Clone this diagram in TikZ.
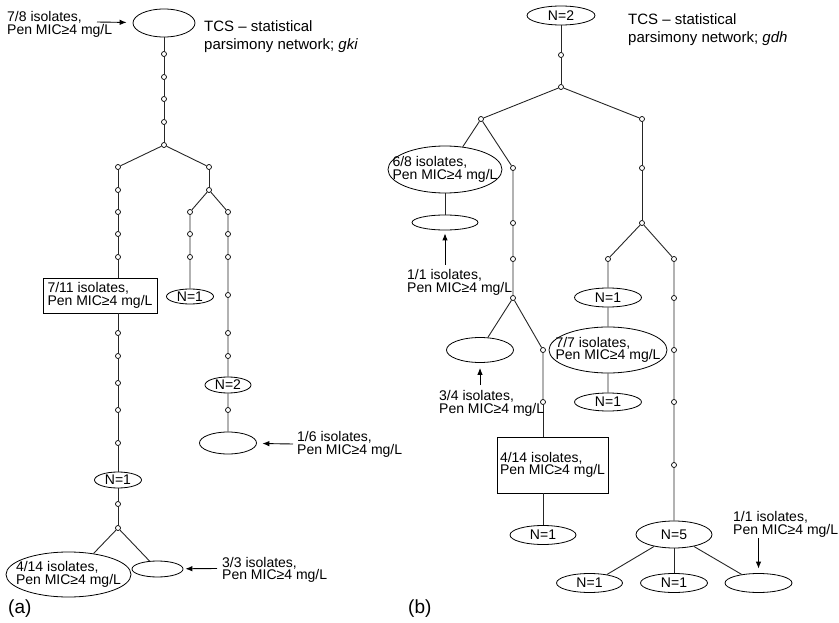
\documentclass[tikz,border=0pt]{standalone}
\usepackage{fontspec}
\setmainfont{Liberation Sans}
\usetikzlibrary{shapes.geometric,arrows.meta}
\newcommand\lblfont{\fontsize{14}{12.7}\selectfont}
\newcommand\ttlfont{\fontsize{15}{18}\selectfont}
\newcommand\panfont{\fontsize{19}{20}\selectfont}
\begin{document}
\begin{tikzpicture}[x=1pt,y=-1pt,
 v/.style={circle,draw=black,fill=white,inner sep=0pt,minimum size=5pt,line width=0.7pt},
 hap/.style={ellipse,draw=black,inner sep=0pt,line width=0.8pt},
 boxnode/.style={rectangle,draw=black,line width=0.8pt,align=left,font=\lblfont,inner sep=0pt},
 edge/.style={draw=black!85,line width=0.9pt},
 arr/.style={draw=black,line width=0.9pt,-{Latex[length=7pt,width=5.5pt]}},
 txt/.style={anchor=base west,align=left,font=\lblfont,inner sep=0pt},
 ttl/.style={anchor=base west,align=left,font=\ttlfont,inner sep=0pt},
 nl/.style={font=\lblfont,align=left}]
\useasboundingbox (0,0) rectangle (839,623);

% ===================== (a) =====================
\node[hap,minimum width=62pt,minimum height=28pt] (ea1) at (164,23) {};
\foreach \n/\y in {a01/54,a02/77,a03/99,a04/122,aj1/145} \node[v] (\n) at (164,\y) {};
\node[v] (aL) at (118,167) {};
\node[v] (aR) at (209,167) {};
\foreach \n/\y in {aL1/190,aL2/212,aL3/234,aL4/257,aL5/333,aL6/356,aL7/383,aL8/410,aL9/443,aL10/504,aj2/528}
  \node[v] (\n) at (118,\y) {};
\node[boxnode,minimum width=114pt,minimum height=35pt] (box1) at (100,295.5) {7/11 isolates,\\Pen MIC≥4 mg/L};
\node[hap,minimum width=47pt,minimum height=16pt,label={[nl]center:N=1}] (na1) at (118,480) {};
\node[hap,minimum width=125pt,minimum height=45pt,label={[nl]center:{4/14 isolates,\\Pen MIC≥4 mg/L}}] (ebig) at (68.5,574.5) {};
\node[hap,minimum width=51pt,minimum height=16pt] (esm) at (157.5,569) {};
\node[v] (aR2) at (209,190) {};
\foreach \n/\y in {aS1/212,aS2/234,aS3/257} \node[v] (\n) at (190,\y) {};
\node[hap,minimum width=47pt,minimum height=15pt,label={[nl]center:N=1}] (na2) at (190,296.5) {};
\foreach \n/\y in {aT1/212,aT2/234,aT3/257,aT4/295,aT5/333,aT6/356,aT7/410} \node[v] (\n) at (228,\y) {};
\node[hap,minimum width=46pt,minimum height=16pt,label={[nl]center:N=2}] (na3) at (228,385) {};
\node[hap,minimum width=57pt,minimum height=22pt] (ea16) at (228,443) {};

\draw[edge] (ea1) -- (a01) -- (a02) -- (a03) -- (a04) -- (aj1);
\draw[edge] (aj1) -- (aL);
\draw[edge] (aj1) -- (aR);
\draw[edge] (aL) -- (aL1) -- (aL2) -- (aL3) -- (aL4);
\draw[edge] (aL4) -- (aL4 |- box1.north);
\draw[edge] (aL5 |- box1.south) -- (aL5) -- (aL6) -- (aL7) -- (aL8) -- (aL9) -- (na1) -- (aL10) -- (aj2);
\draw[edge] (aj2) -- (ebig.40);
\draw[edge] (aj2) -- (esm.135);
\draw[edge] (aR) -- (aR2);
\draw[edge] (aR2) -- (aS1) -- (aS2) -- (aS3) -- (na2);
\draw[edge] (aR2) -- (aT1) -- (aT2) -- (aT3) -- (aT4) -- (aT5) -- (aT6) -- (na3) -- (aT7) -- (ea16);

\node[txt] (la1) at (7,34.7) {7/8 isolates,\\Pen MIC≥4 mg/L};
\node[txt] (la2) at (297,454.2) {1/6 isolates,\\Pen MIC≥4 mg/L};
\node[txt] (la3) at (222,579.7) {3/3 isolates,\\Pen MIC≥4 mg/L};
\node[ttl] (ta) at (204,50) {TCS – statistical\\parsimony network; \textit{gki}};
\node[font=\panfont,anchor=west,inner sep=0pt] (pa) at (8,609) {(a)};

\coordinate (ca1) at (97,22);
\coordinate (ca2) at (293,444);
\coordinate (ca3) at (217,568.5);
\draw[arr,shorten >=6pt] (ca1) -- (ea1);
\draw[arr,shorten >=5.5pt] (ca2) -- (ea16);
\draw[arr,shorten >=2pt] (ca3) -- (esm);

% ===================== (b) =====================
\node[hap,minimum width=68pt,minimum height=19pt,label={[nl]center:N=2}] (nb0) at (561,15.5) {};
\node[v] (b01) at (561,55) {};
\node[v] (bj1) at (561,87) {};
\node[v] (bL) at (481,119) {};
\node[v] (bR) at (642,119) {};
\node[hap,minimum width=114pt,minimum height=47pt,label={[nl]center:{6/8 isolates,\\Pen MIC≥4 mg/L}}] (e68) at (445,169.5) {};
\node[hap,minimum width=66pt,minimum height=15pt] (e11) at (445,222.5) {};
\foreach \n/\y in {bM1/168,bM2/223,bM3/259,bj2/298} \node[v] (\n) at (513,\y) {};
\node[hap,minimum width=67pt,minimum height=25pt] (e34) at (480,350) {};
\node[v] (bN1) at (543,350) {};
\node[v] (bN2) at (543,402) {};
\node[boxnode,minimum width=111pt,minimum height=56pt] (box2) at (552.5,465) {4/14 isolates,\\Pen MIC≥4 mg/L};
\node[hap,minimum width=66pt,minimum height=19pt,label={[nl]center:N=1}] (nb1) at (543,535) {};
\node[v] (bR1) at (642,168) {};
\node[v] (bj3) at (642,223) {};
\node[v] (bP1) at (608,259) {};
\node[hap,minimum width=67pt,minimum height=19pt,label={[nl]center:N=1}] (nb2) at (608,297.5) {};
\node[hap,minimum width=118pt,minimum height=46pt,label={[nl]center:{7/7 isolates,\\Pen MIC≥4 mg/L}}] (e77) at (608,350) {};
\node[hap,minimum width=67pt,minimum height=18pt,label={[nl]center:N=1}] (nb3) at (608,402) {};
\foreach \n/\y in {bQ1/259,bQ2/298,bQ3/350,bQ4/402,bQ5/465} \node[v] (\n) at (674,\y) {};
\node[hap,minimum width=76pt,minimum height=27pt,label={[nl]center:N=5}] (nb5) at (674,534.5) {};
\node[hap,minimum width=66pt,minimum height=19pt,label={[nl]center:N=1}] (nb6) at (589.5,583) {};
\node[hap,minimum width=67pt,minimum height=19pt,label={[nl]center:N=1}] (nb7) at (674,583) {};
\node[hap,minimum width=67pt,minimum height=19pt] (eend) at (758.5,583) {};

\draw[edge] (nb0) -- (b01) -- (bj1);
\draw[edge] (bj1) -- (bL);
\draw[edge] (bj1) -- (bR);
\draw[edge] (bL) -- (e68.52);
\draw[edge] (e68) -- (e11);
\draw[edge] (bL) -- (bM1) -- (bM2) -- (bM3) -- (bj2);
\draw[edge] (bj2) -- (e34.58);
\draw[edge] (bj2) -- (bN1) -- (bN2);
\draw[edge] (bN2) -- (bN2 |- box2.north);
\draw[edge] (bN2 |- box2.south) -- (nb1);
\draw[edge] (bR) -- (bR1) -- (bj3);
\draw[edge] (bj3) -- (bP1) -- (nb2) -- (e77) -- (nb3);
\draw[edge] (bj3) -- (bQ1) -- (bQ2) -- (bQ3) -- (bQ4) -- (bQ5) -- (nb5);
\draw[edge] (nb5.-149) -- (nb6.26);
\draw[edge] (nb5) -- (nb7);
\draw[edge] (nb5.-31) -- (eend.153);

\node[txt] (lb1) at (407,292.2) {1/1 isolates,\\Pen MIC≥4 mg/L};
\node[txt] (lb2) at (439,413.4) {3/4 isolates,\\Pen MIC≥4 mg/L};
\node[txt] (lb3) at (733,534.4) {1/1 isolates,\\Pen MIC≥4 mg/L};
\node[ttl] (tb) at (628,43) {TCS – statistical\\parsimony network; \textit{gdh}};
\node[font=\panfont,anchor=west,inner sep=0pt] (pb) at (408,609) {(b)};

\coordinate (cb1) at (445,265);
\coordinate (cb2) at (480,385);
\coordinate (cb3) at (758.5,538);
\draw[arr,shorten >=3pt] (cb1) -- (e11);
\draw[arr,shorten >=5pt] (cb2) -- (e34);
\draw[arr,shorten >=4.5pt] (cb3) -- (eend);
\end{tikzpicture}
\end{document}
